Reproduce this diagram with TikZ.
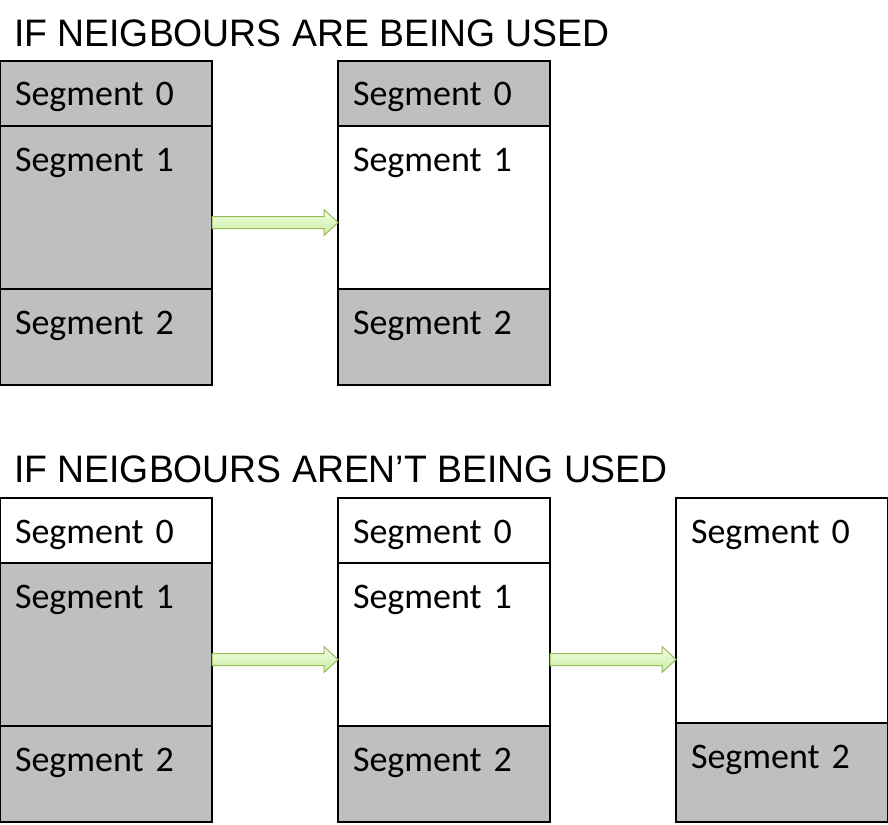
\documentclass[tikz,border=0pt]{standalone}
\usepackage{fontspec}
\setmainfont{Carlito}
\newfontfamily\headfont{Liberation Sans}
\usetikzlibrary{calc,positioning}
\definecolor{seggray}{HTML}{BFBFBF}
\definecolor{arrowtop}{HTML}{F4FFE8}
\definecolor{arrowbot}{HTML}{C8EC9E}
\definecolor{arrowline}{HTML}{9BBB59}

\begin{document}
\begin{tikzpicture}[x=1pt,y=-1pt]
      \tikzstyle{snode} = [draw=black, line width=1.5pt, rectangle, anchor=north west, inner xsep=15pt, inner ysep=0pt, outer sep=0pt, text width=182pt, align=left, text height=45pt, font=\fontsize{36}{40}\selectfont]
      \tikzstyle{hnode} = [anchor=base west, inner sep=0pt, xscale=0.975, transform shape, font=\headfont\fontsize{38.3}{40}\selectfont]
      \tikzstyle{fatarrow} = [draw=arrowline, line width=1pt, top color=arrowtop, bottom color=arrowbot]

      \useasboundingbox (0,0) rectangle (888,824);

      % neighbours used
      \node[hnode] (h1) at (14,47) {IF NEIGBOURS ARE BEING USED};
      \node[snode, fill=seggray, text depth=20pt] (t00) at (0,61) {Segment 0};
      \node[snode, fill=seggray, text depth=118pt] (t01) at (0,126) {Segment 1};
      \node[snode, fill=seggray, text depth=51pt] (t02) at (0,289) {Segment 2};

      \node[snode, fill=seggray, text depth=20pt] (t10) at (338,61) {Segment 0};
      \node[snode, fill=white, text depth=118pt] (t11) at (338,126) {Segment 1};
      \node[snode, fill=seggray, text depth=51pt] (t12) at (338,289) {Segment 2};

      % neighbours not used
      \node[hnode] (h2) at (14,482) {IF NEIGBOURS AREN’T BEING USED};
      \node[snode, fill=white, text depth=20pt] (b00) at (0,498) {Segment 0};
      \node[snode, fill=seggray, text depth=118pt] (b01) at (0,563) {Segment 1};
      \node[snode, fill=seggray, text depth=51pt] (b02) at (0,726) {Segment 2};

      \node[snode, fill=white, text depth=20pt] (b10) at (338,498) {Segment 0};
      \node[snode, fill=white, text depth=118pt] (b11) at (338,563) {Segment 1};
      \node[snode, fill=seggray, text depth=51pt] (b12) at (338,726) {Segment 2};

      \node[snode, fill=white, text depth=180pt] (b20) at (676,498) {Segment 0};
      \node[snode, fill=seggray, text depth=54pt] (b22) at (676,723) {Segment 2};

      % arrows between boxes
      \draw[fatarrow] let \p1=([yshift=-15pt]t01.east), \p2=(t11.west) in
        (\x1,\y1+6pt) -- (\x2-14pt,\y1+6pt) -- (\x2-14pt,\y1+13pt) -- (\x2,\y1)
        -- (\x2-14pt,\y1-13pt) -- (\x2-14pt,\y1-6pt) -- (\x1,\y1-6pt) -- cycle;
      \draw[fatarrow] let \p1=([yshift=-15pt]b01.east), \p2=(b11.west) in
        (\x1,\y1+6pt) -- (\x2-14pt,\y1+6pt) -- (\x2-14pt,\y1+13pt) -- (\x2,\y1)
        -- (\x2-14pt,\y1-13pt) -- (\x2-14pt,\y1-6pt) -- (\x1,\y1-6pt) -- cycle;
      \draw[fatarrow] let \p1=([yshift=-15pt]b11.east), \p2=(b20.west) in
        (\x1,\y1+6pt) -- (\x2-14pt,\y1+6pt) -- (\x2-14pt,\y1+13pt) -- (\x2,\y1)
        -- (\x2-14pt,\y1-13pt) -- (\x2-14pt,\y1-6pt) -- (\x1,\y1-6pt) -- cycle;
\end{tikzpicture}
\end{document}
